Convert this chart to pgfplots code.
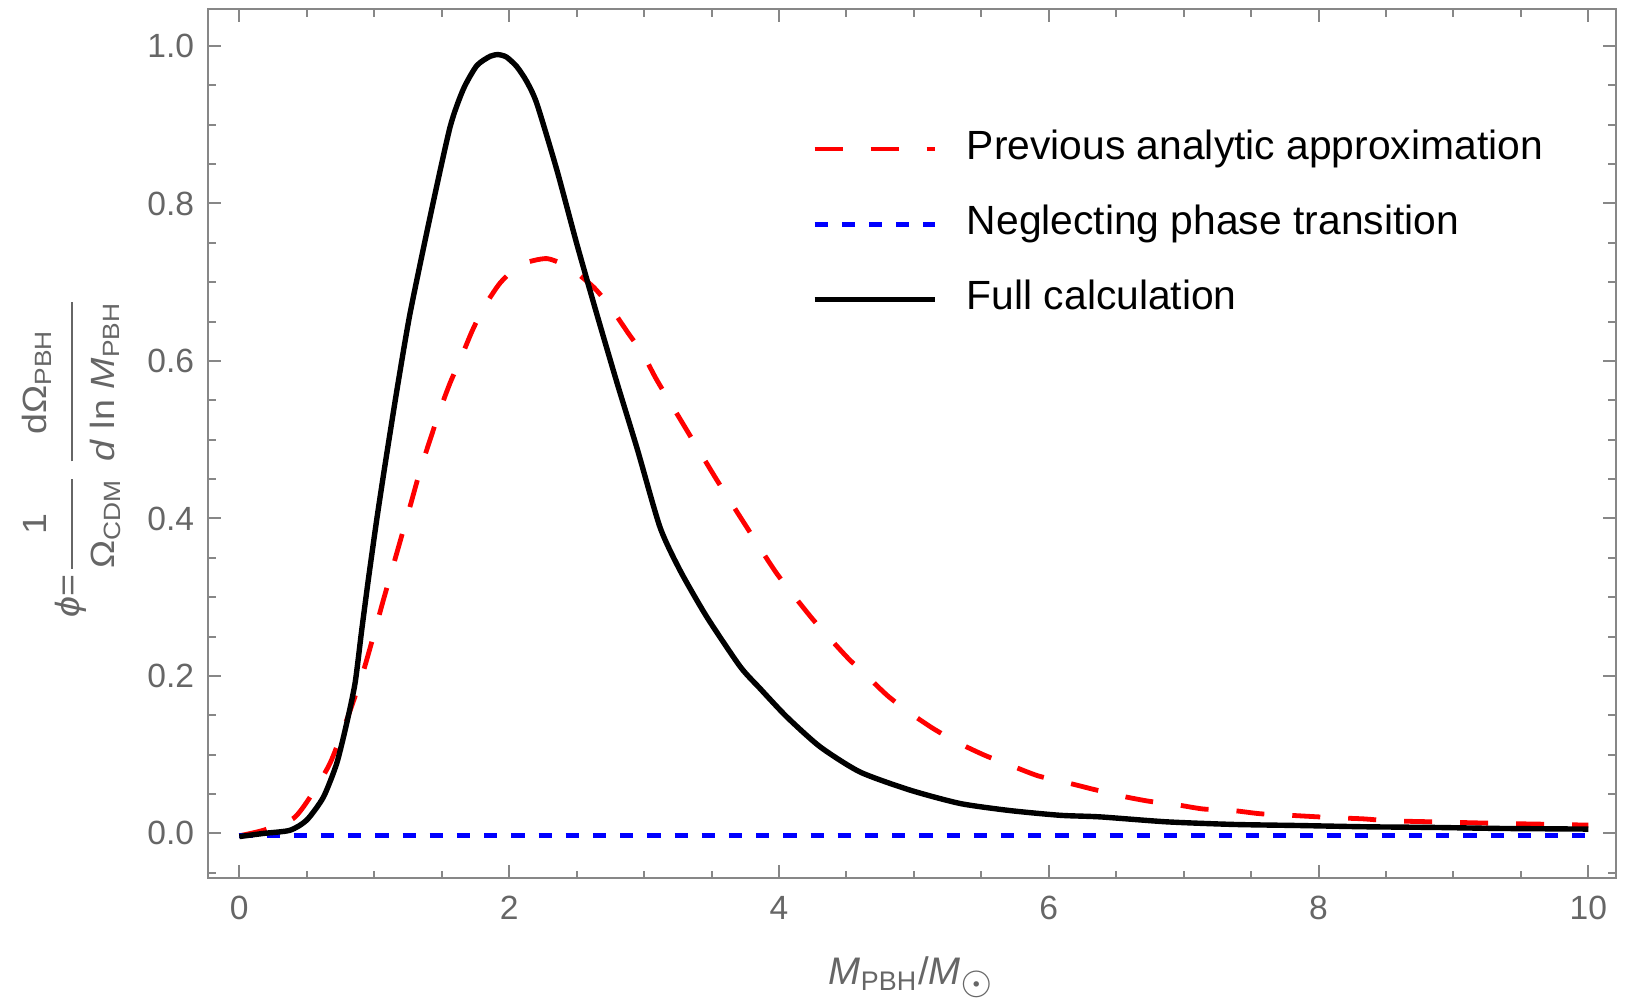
\documentclass[border=0pt]{standalone}
\usepackage{fontspec}
\setmainfont{Liberation Sans}
\usepackage{amsmath}
\usepackage{graphicx}
\usepackage{pgfplots}
\pgfplotsset{compat=1.18}
\usetikzlibrary{calc}
\definecolor{framegray}{rgb}{0.53,0.53,0.53}
\definecolor{labelgray}{rgb}{0.40,0.40,0.40}
\definecolor{mred}{rgb}{1,0,0}
\definecolor{mblue}{rgb}{0,0,1}

\begin{document}
\begin{tikzpicture}
\begin{axis}[
  scale only axis,
  width=351.93pt, height=217.33pt,
  xmin=-0.23, xmax=10.205, ymin=-0.057, ymax=1.047,
  xtick={0,2,4,6,8,10},
  minor xtick={0.5,1,1.5,2.5,3,3.5,4.5,5,5.5,6.5,7,7.5,8.5,9,9.5},
  ytick={0,0.2,0.4,0.6,0.8,1.0},
  minor ytick={-0.05,0.05,0.1,0.15,0.25,0.3,0.35,0.45,0.5,0.55,0.65,0.7,0.75,0.85,0.9,0.95},
  tick align=inside,
  major tick length=3.25pt, minor tick length=1.9pt,
  axis line style={framegray, line width=0.5pt},
  every tick/.style={framegray, line width=0.5pt},
  /pgf/number format/assume math mode=true,
  tick label style={font=\fontsize{8.4}{9}\selectfont, color=labelgray},
  yticklabel style={/pgf/number format/.cd, fixed, fixed zerofill, precision=1},
  xticklabel style={yshift=-1pt},
  xlabel={\textit{M}\textsubscript{PBH}/\textit{M}\textsubscript{\scalebox{1.3}{$\odot$}}},
  xlabel style={at={(rel axis cs:0.5,0)}, anchor=base, yshift=-26.5pt,
    font=\fontsize{9.6}{10}\selectfont, color=labelgray},
  ylabel={\scalebox{1.12}[1]{\textit{ϕ}=$\genfrac{}{}{0.6pt}{0}{\rule[-4.3pt]{0pt}{0pt}\mbox{1}}{\rule{0pt}{8.6pt}\mbox{Ω\textsubscript{CDM}}}\,\genfrac{}{}{0.6pt}{0}{\rule[-4.3pt]{0pt}{0pt}\mbox{dΩ\textsubscript{PBH}}}{\rule{0pt}{8.6pt}\mbox{\textit{d} ln \textit{M}\textsubscript{PBH}}}$}},
  ylabel style={at={(rel axis cs:0,0.485)}, anchor=center, yshift=34.3pt,
    font=\fontsize{8.4}{9}\selectfont, color=labelgray},
  legend style={at={(rel axis cs:0.4282,0.862)}, anchor=north west,
    draw=none, fill=none, inner sep=0pt,
    font=\fontsize{10.2}{12}\selectfont, text=black,
    row sep=9.2pt,
    nodes={inner sep=0pt, text height=7.4pt, text depth=2.2pt}},
  legend cell align=left,
  legend image code/.code={\draw[#1] (0pt,0pt) -- (30pt,0pt); \path (37.4pt,0pt);},
  clip=true,
]
\coordinate (fsw) at (rel axis cs:0,0);
\coordinate (fne) at (rel axis cs:1,1);

\addplot[mred, line width=1.2pt, dash pattern=on 7pt off 7pt, smooth, tension=0.4] coordinates {
(0,-0.003) (0.178,0.004) (0.40,0.019) (0.524,0.046) (0.672,0.089) (0.796,0.144)
(0.907,0.199) (0.993,0.250) (1.067,0.296) (1.167,0.356) (1.265,0.415) (1.34,0.461)
(1.389,0.487) (1.488,0.538) (1.562,0.572) (1.636,0.601) (1.723,0.637) (1.809,0.667)
(1.933,0.699) (2.081,0.722) (2.279,0.730) (2.451,0.718) (2.624,0.694) (2.748,0.669)
(2.884,0.635) (2.995,0.608) (3.094,0.576) (3.317,0.512) (3.539,0.449) (3.761,0.389)
(3.984,0.330) (4.231,0.276) (4.354,0.252) (4.515,0.222) (4.651,0.200) (4.811,0.174)
(4.972,0.153) (5.145,0.133) (5.330,0.115) (5.528,0.099) (5.738,0.085) (5.923,0.073)
(6.145,0.064) (6.331,0.056) (6.553,0.047) (6.738,0.041) (6.961,0.036) (7.146,0.031)
(7.368,0.029) (7.566,0.025) (7.788,0.023) (8.109,0.020) (8.331,0.0185) (8.530,0.016)
(8.851,0.0147) (9.345,0.0127) (9.765,0.0114) (10.0,0.0105)
};
\addlegendentry{Previous analytic approximation}

\addplot[mblue, line width=1.2pt, dash pattern=on 3.3pt off 3.5pt] coordinates {
(0,-0.003) (10,-0.003)
};
\addlegendentry{Neglecting phase transition}

\addplot[black, line width=1.35pt, smooth, tension=0.4] coordinates {
(0,-0.004) (0.18,0.0) (0.376,0.004) (0.5,0.017) (0.623,0.046) (0.722,0.089)
(0.796,0.140) (0.858,0.191) (0.907,0.258) (0.956,0.322) (1.018,0.398) (1.08,0.468)
(1.17,0.565) (1.265,0.660) (1.414,0.783) (1.562,0.897) (1.66,0.945) (1.76,0.975) (1.86,0.987) (1.92,0.989)
(1.98,0.986) (2.056,0.974) (2.13,0.955) (2.205,0.927) (2.353,0.843) (2.501,0.749) (2.649,0.660) (2.80,0.572)
(2.95,0.488) (3.118,0.389) (3.267,0.334) (3.465,0.275) (3.712,0.212) (3.86,0.184)
(4.058,0.148) (4.305,0.110) (4.601,0.078) (4.972,0.055) (5.343,0.038) (5.713,0.029)
(6.084,0.023) (6.38,0.021) (6.874,0.0147) (7.368,0.0114) (7.862,0.010) (8.357,0.0084)
(8.851,0.0076) (9.345,0.0063) (10.0,0.0055)
};
\addlegendentry{Full calculation}
\end{axis}
\pgfresetboundingbox
\path ($(fsw)+(-52.08pt,-30.175pt)$) rectangle ($(fne)+(4.75pt,2.25pt)$);
\end{tikzpicture}
\end{document}
